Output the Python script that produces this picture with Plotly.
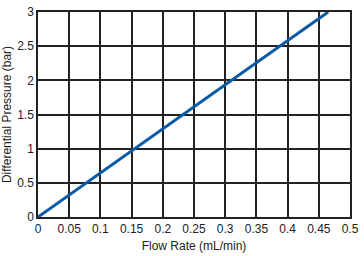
import plotly.graph_objects as go

flow_rate = [0.0, 0.465]
pressure = [0.0, 3.0]
x_ticks = [0, 0.05, 0.1, 0.15, 0.2, 0.25, 0.3, 0.35, 0.4, 0.45, 0.5]
x_labels = ["0", "0.05", "0.1", "0.15", "0.2", "0.25", "0.3", "0.35", "0.4", "0.45", "0.5"]
y_ticks = [0, 0.5, 1, 1.5, 2, 2.5, 3]
y_labels = ["0", "0.5", "1", "1.5", "2", "2.5", "3"]

fig = go.Figure()
fig.add_trace(go.Scatter(x=flow_rate, y=pressure, mode="lines",
                         line=dict(color="#0b5aa6", width=3), showlegend=False))

font = dict(family="Liberation Sans, Arial, sans-serif", size=12, color="#222")
fig.update_layout(
    width=364, height=256,
    margin=dict(l=38, r=11, t=5, b=37),
    paper_bgcolor="white", plot_bgcolor="white",
    font=font,
    xaxis=dict(range=[0, 0.5], tickvals=x_ticks, ticktext=x_labels,
               showgrid=True, gridcolor="#222", gridwidth=1.5,
               showline=True, linecolor="#222", linewidth=1.5, mirror=True,
               zeroline=False, ticks="", ticklen=0,
               title=dict(text="Flow Rate (mL/min)", standoff=6, font=dict(size=12))),
    yaxis=dict(range=[0, 3], tickvals=y_ticks, ticktext=y_labels,
               showgrid=True, gridcolor="#222", gridwidth=1.5,
               showline=True, linecolor="#222", linewidth=1.5, mirror=True,
               zeroline=False, ticks="", ticklen=0,
               title=dict(text="Differential Pressure (bar)", standoff=4, font=dict(size=12))),
)
fig.write_html("out.html")
